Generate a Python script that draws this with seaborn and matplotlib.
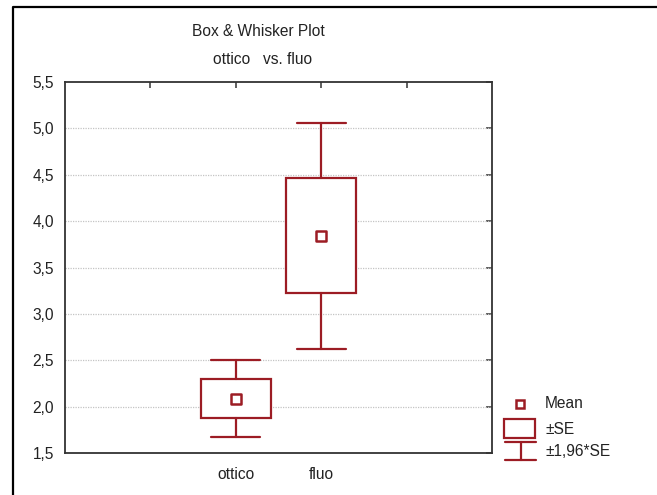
import matplotlib
matplotlib.use("Agg")
import matplotlib.pyplot as plt
from matplotlib.lines import Line2D
from matplotlib.patches import Rectangle
import seaborn as sns
import pandas as pd
import numpy as np

# Summary statistics per method
categories = ["ottico", "fluo"]
means = [2.085, 3.84]
std_errors = [0.213, 0.62]
se_factor = 1.96

title_lines = ["Box & Whisker Plot", "ottico   vs. fluo"]
legend_labels = ["Mean", "\u00b1SE", "\u00b11,96*SE"]
yticks = [1.5, 2.0, 2.5, 3.0, 3.5, 4.0, 4.5, 5.0, 5.5]

RED = "#9c1c24"
W, H = 657, 495
FS = 11.2

sns.set_style("white")
plt.rcParams["font.family"] = ["Liberation Sans", "DejaVu Sans"]

df = pd.DataFrame({"method": categories, "mean": means, "se": std_errors})
df["pos"] = np.arange(len(df))

fig = plt.figure(figsize=(W / 100, H / 100), dpi=100)
ax = fig.add_axes([65 / W, 1 - 453 / H, (492 - 65) / W, (453 - 82) / H])


def px(x, y):
    return (x / W, 1 - y / H)


# boxes (mean ± SE) and whiskers (mean ± 1.96*SE)
stats = []
for _, r in df.iterrows():
    stats.append({
        "med": r["mean"],
        "q1": r["mean"] - r["se"],
        "q3": r["mean"] + r["se"],
        "whislo": r["mean"] - se_factor * r["se"],
        "whishi": r["mean"] + se_factor * r["se"],
        "fliers": [],
        "label": r["method"],
    })

ax.bxp(stats, positions=df["pos"], widths=0.82, capwidths=0.57,
       patch_artist=True, showfliers=False,
       boxprops=dict(facecolor="white", edgecolor=RED, linewidth=1.6),
       whiskerprops=dict(color=RED, linewidth=1.6),
       capprops=dict(color=RED, linewidth=1.6),
       medianprops=dict(linewidth=0),
       manage_ticks=False, zorder=3)

sns.scatterplot(data=df, x="pos", y="mean", marker="s", s=45,
                facecolor="white", edgecolor=RED, linewidth=1.8,
                ax=ax, zorder=4, legend=False)

ax.set_xlim(-2, 3)
ax.set_ylim(1.5, 5.5)
ax.set_xticks([-1, 0, 1, 2])
ax.set_xticklabels([""] + categories + [""])
ax.set_yticks(yticks)
ax.set_yticklabels([f"{v:.1f}".replace(".", ",") for v in yticks])
ax.set_xlabel("")
ax.set_ylabel("")

for v in yticks[1:-1]:
    ax.axhline(v, color="#c4c4c4", linestyle=(0, (1, 1)), linewidth=0.9, zorder=1)

for s in ax.spines.values():
    s.set_color("#333333")
    s.set_linewidth(1.3)
ax.tick_params(direction="in", length=4, width=1.1, color="#333333",
               top=True, right=True, labelsize=FS, labelcolor="#222222")
ax.tick_params(axis="y", pad=8)
ax.tick_params(axis="x", pad=10)

# titles
fig.text(*px(258, 32), title_lines[0], ha="center", va="center",
         fontsize=FS, color="#222222")
fig.text(*px(263, 60), title_lines[1], ha="center", va="center",
         fontsize=FS, color="#222222")

# legend
fig.add_artist(Line2D([px(520, 0)[0]], [px(0, 404)[1]], marker="s",
                      markersize=6, markerfacecolor="white",
                      markeredgecolor=RED, markeredgewidth=1.8,
                      transform=fig.transFigure))
x0, y0 = px(504, 437.7)
x1, y1 = px(535, 419)
fig.add_artist(Rectangle((x0, y0), x1 - x0, y1 - y0, fill=False,
                         edgecolor=RED, linewidth=1.6,
                         transform=fig.transFigure))
for yy in (442, 460):
    a, b = px(505, yy), px(536, yy)
    fig.add_artist(Line2D([a[0], b[0]], [a[1], b[1]], color=RED,
                          linewidth=1.6, transform=fig.transFigure))
a, b = px(520.5, 442), px(520.5, 460)
fig.add_artist(Line2D([a[0], b[0]], [a[1], b[1]], color=RED,
                      linewidth=1.6, transform=fig.transFigure))
for lab, yy in zip(legend_labels, (404, 429, 452)):
    fig.text(*px(545, yy), lab, ha="left", va="center", fontsize=FS,
             color="#222222")

# outer frame (left and top edges)
a, b, c = px(12.7, 495), px(12.7, 6.7), px(657, 6.7)
fig.add_artist(Line2D([a[0], b[0], c[0]], [a[1], b[1], c[1]], color="black",
                      linewidth=1.6, transform=fig.transFigure))

fig.savefig("out.png", dpi=100)
